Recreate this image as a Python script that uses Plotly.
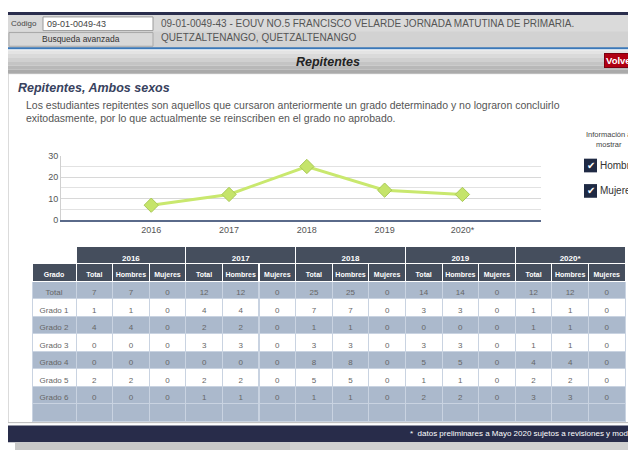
import plotly.graph_objects as go

# the page body adds an 8px margin, so the figure covers 628x447 from (8, 8)
OFF = 8
W, H = 636 - OFF, 455 - OFF

years = ["2016", "2017", "2018", "2019", "2020*"]
grados = ["Total", "Grado 1", "Grado 2", "Grado 3", "Grado 4", "Grado 5", "Grado 6"]

# repitentes por grado (Total, Grado 1..6) y por año
total_2016 = [7, 1, 4, 0, 0, 2, 0]
total_2017 = [12, 4, 2, 3, 0, 2, 1]
total_2018 = [25, 7, 1, 3, 8, 5, 1]
total_2019 = [14, 3, 0, 3, 5, 1, 2]
total_2020 = [12, 1, 1, 1, 4, 2, 3]
hombres_2016 = [7, 1, 4, 0, 0, 2, 0]
hombres_2017 = [12, 4, 2, 3, 0, 2, 1]
hombres_2018 = [25, 7, 1, 3, 8, 5, 1]
hombres_2019 = [14, 3, 0, 3, 5, 1, 2]
hombres_2020 = [12, 1, 1, 1, 4, 2, 3]
mujeres_2016 = [0, 0, 0, 0, 0, 0, 0]
mujeres_2017 = [0, 0, 0, 0, 0, 0, 0]
mujeres_2018 = [0, 0, 0, 0, 0, 0, 0]
mujeres_2019 = [0, 0, 0, 0, 0, 0, 0]
mujeres_2020 = [0, 0, 0, 0, 0, 0, 0]

serie_total = [7, 12, 25, 14, 12]

FONT = "Liberation Sans"


def px(x):
    return (x - OFF) / W


def py(y):
    return 1 - (y - OFF) / H


fig = go.Figure()

# ---- line chart
fig.add_trace(go.Scatter(
    x=list(range(len(years))), y=serie_total,
    mode="lines+markers",
    line=dict(color="#c9e86e", width=3),
    marker=dict(symbol="diamond", size=11, color="#c5e46a",
                line=dict(color="#a9c956", width=1)),
    showlegend=False, hoverinfo="skip",
))

fig.update_xaxes(
    domain=[px(61), px(541)], range=[-1.16, 5.01],
    tickvals=list(range(len(years))), ticktext=years,
    showgrid=False, zeroline=False, showline=True,
    linecolor="#5a6a8a", linewidth=2, ticks="",
    tickfont=dict(family=FONT, size=9, color="#555"),
)
fig.update_yaxes(
    domain=[py(220), py(154)], range=[0, 30],
    tickvals=[0, 10, 20, 30], showgrid=True, gridcolor="#d8d8d8",
    minor=dict(dtick=5, showgrid=True, gridcolor="#e2e2e2"),
    zeroline=False, showline=True, linecolor="#d0d0d0", linewidth=1,
    ticks="", ticklabelstandoff=0,
    tickfont=dict(family=FONT, size=9, color="#555"),
)

# ---- tables
hdr_fill = "#454e5d"
# year row: header of a small table whose single blank row sits under the main header
fig.add_trace(go.Table(
    domain=dict(x=[px(76), px(625)], y=[py(290), py(247)]),
    columnwidth=[1] * 5,
    header=dict(values=years, height=17,
                fill_color=hdr_fill, line=dict(color="white", width=1),
                font=dict(family=FONT, size=8, color="white", weight="bold"),
                align="center"),
    cells=dict(values=[[""] for _ in years], height=17,
               fill_color=hdr_fill, line=dict(color=hdr_fill, width=1)),
))

nb = "\u00a0"
columns = [[g.replace(" ", nb) for g in grados] + [""]]
totals = [total_2016, total_2017, total_2018, total_2019, total_2020]
hombres = [hombres_2016, hombres_2017, hombres_2018, hombres_2019, hombres_2020]
mujeres = [mujeres_2016, mujeres_2017, mujeres_2018, mujeres_2019, mujeres_2020]
headers = ["Grado"]
for t, h, m in zip(totals, hombres, mujeres):
    columns += [[str(v) for v in t] + [""], [str(v) for v in h] + [""],
                [str(v) for v in m] + [""]]
    headers += ["Total", "Hombres", "Mujeres"]

blue, white = "#abb9cc", "#ffffff"
row_colors = [blue, white, blue, white, blue, white, blue, blue]

fig.add_trace(go.Table(
    domain=dict(x=[px(32), px(625)], y=[py(430), py(264)]),
    columnwidth=[44] + [36.6] * 15,
    header=dict(values=headers, height=18,
                fill_color=hdr_fill, line=dict(color="white", width=1),
                font=dict(family=FONT, size=7, color="white", weight="bold"),
                align="center"),
    cells=dict(values=columns, height=17.5,
               fill_color=[row_colors] * len(columns),
               line=dict(color="#c9d3e1", width=1),
               font=dict(family=FONT, size=8, color="#666"), align="center"),
))

# ---- page chrome
shapes = []


def rect(x0, y0, x1, y1, fill, line=None, lw=0, layer="below"):
    shapes.append(dict(type="rect", xref="paper", yref="paper",
                       x0=px(x0), x1=px(x1), y0=py(y1), y1=py(y0),
                       fillcolor=fill, layer=layer,
                       line=dict(color=line or fill, width=lw)))


# top header
rect(8, 7, 636, 10, "#2a2e4d")
rect(8, 10, 636, 44, "#d2d2d2")
rect(8, 10, 636, 27, "#dadada")
shapes.append(dict(type="line", xref="paper", yref="paper",
                   x0=px(8), x1=1, y0=py(44), y1=py(44),
                   line=dict(color="#3b78b8", width=2)))
rect(43, 12, 153, 26, "#ffffff", "#9a9a9a", 1)
rect(9, 28, 153, 42, "#d8d8d8", "#a8a8a8", 1)
# Repitentes bar (approximate gradient)
grad = ["#e4e4e4", "#dadada", "#d0d0d0", "#c4c4c4", "#b8b8b8", "#aaaaaa"]
for i, c in enumerate(grad):
    rect(8, 46 + i * 4, 636, 46 + (i + 1) * 4, c)
# content panel
rect(8, 70, 636, 427, "#ffffff", "#b8b8b8", 1)
# footer + scrollbar
rect(8, 430, 636, 447, "#282c4a")
rect(15, 447, 636, 455, "#c8c8c8")
rect(290, 447, 636, 455, "#d0d0d0")
# checkboxes
rect(584, 157, 597, 171, "#1f2a44")
rect(584, 183, 597, 197, "#1f2a44")

annotations = []


def text(x, y, s, size, color="#555", anchor="left", bold=False, italic=False, **kw):
    if italic:
        s = f"<i>{s}</i>"
    if bold:
        s = f"<b>{s}</b>"
    annotations.append(dict(xref="paper", yref="paper", x=px(x), y=py(y),
                            text=s, showarrow=False, xanchor=anchor,
                            yanchor="middle",
                            font=dict(family=FONT, size=size, color=color), **kw))


text(9, 19, "Código", 8, "#444")
text(45, 19, "09-01-0049-43", 9, "#444")
text(81, 35, "Busqueda avanzada", 8.5, "#333", anchor="center")
text(159, 19, "09-01-0049-43 - EOUV NO.5 FRANCISCO VELARDE JORNADA MATUTINA DE PRIMARIA.", 10, "#555")
text(159, 33, "QUETZALTENANGO, QUETZALTENANGO", 10, "#555")
text(328, 58, "Repitentes", 12.5, "#222", anchor="center", bold=True, italic=True)
text(604, 57, "Volver", 9.5, "#ffffff", bold=True,
     bgcolor="#b00012", bordercolor="#7a0010", borderwidth=1, borderpad=1)
text(16, 85, "Repitentes, Ambos sexos", 12.5, "#38425e", bold=True, italic=True)
text(24, 102, "Los estudiantes repitentes son aquellos que cursaron anteriormente un grado determinado y no lograron concluirlo", 10.5, "#555")
text(24, 115, "exitodasmente, por lo que actualmente se reinscriben en el grado no aprobado.", 10.5, "#555")
text(609, 132, "Información a", 7.5, "#444", anchor="center")
text(609, 142, "mostrar", 7.5, "#444", anchor="center")
text(590.5, 164, "✔", 10, "#ffffff", anchor="center")
text(590.5, 190, "✔", 10, "#ffffff", anchor="center")
text(598, 164, "Hombres", 10, "#333")
text(598, 190, "Mujeres", 10, "#333")
text(408, 438, "*  datos preliminares a Mayo 2020 sujetos a revisiones y modificaciones", 8, "#ffffff")

fig.update_layout(
    width=W, height=H, autosize=False,
    margin=dict(l=0, r=0, t=0, b=0),
    paper_bgcolor="white", plot_bgcolor="white",
    shapes=shapes, annotations=annotations, showlegend=False,
)

fig.write_html("out.html", config={"displayModeBar": False})
